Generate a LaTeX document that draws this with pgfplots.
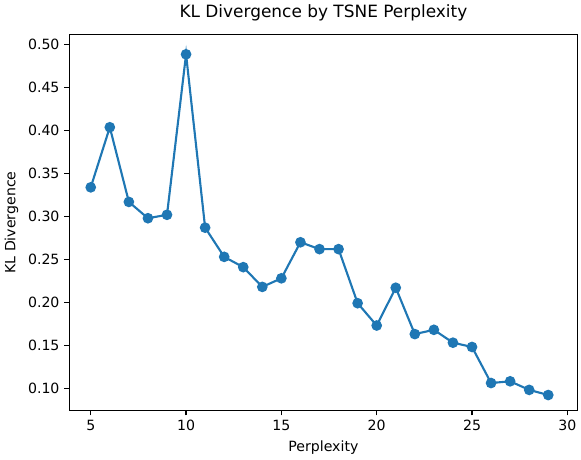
\documentclass[border=0pt]{standalone}
\usepackage{pgfplots}
\pgfplotsset{compat=1.18}
\usepackage{fontspec}
\setmainfont{DejaVu Sans}
\definecolor{c0}{HTML}{1F77B4}
\begin{document}
\begin{tikzpicture}
\begin{axis}[
  scale only axis, width=360pt, height=266.4pt,
  xmin=3.88, xmax=30.53, ymin=0.074, ymax=0.512,
  xtick={5,10,...,30}, ytick={0.10,0.15,...,0.51},
  yticklabel style={/pgf/number format/.cd,fixed,fixed zerofill,precision=2},
  /pgf/number format/assume math mode=true,
  tick align=outside, tick pos=left, major tick length=3.5pt,
  every tick/.style={line width=0.8pt},
  tick label style={font=\fontsize{10}{12}\selectfont},
  label style={font=\fontsize{10}{12}\selectfont},
  title style={font=\fontsize{12}{14}\selectfont},
  title={KL Divergence by TSNE Perplexity},
  xlabel={Perplexity}, ylabel={KL Divergence},
  axis line style={line width=0.8pt},
]
\addplot[c0, line width=1.5pt, mark=*, mark size=3pt, mark options={fill=c0,draw=c0}] coordinates {
(5,0.334)(6,0.404)(7,0.317)(8,0.298)(9,0.302)(10,0.489)(11,0.287)(12,0.253)(13,0.241)(14,0.218)(15,0.228)(16,0.270)(17,0.262)(18,0.262)(19,0.199)(20,0.173)(21,0.217)(22,0.163)(23,0.168)(24,0.153)(25,0.148)(26,0.106)(27,0.108)(28,0.098)(29,0.092)};
\end{axis}
\end{tikzpicture}
\end{document}
